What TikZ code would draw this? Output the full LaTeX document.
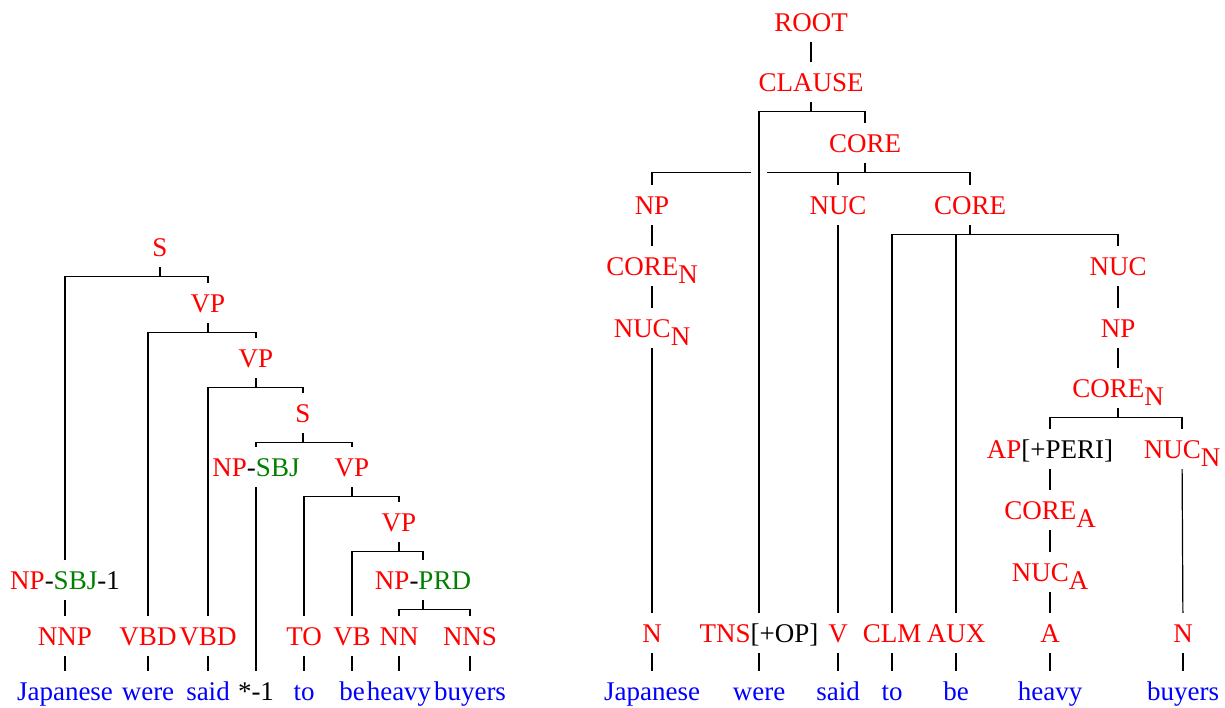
\documentclass[tikz,border=0pt]{standalone}
\usepackage{fontspec}
\setmainfont{Liberation Serif}
\definecolor{tagred}{RGB}{255,0,0}
\definecolor{funcgreen}{RGB}{0,128,0}
\definecolor{wordblue}{RGB}{0,0,255}
\newcommand{\functag}[1]{\textcolor{funcgreen}{#1}}
\newcommand{\plaintag}[1]{\textcolor{black}{#1}}
\newcommand{\lowsub}[1]{\raisebox{-4pt}{#1}}
\tikzset{
  treenode/.style={inner sep=0pt, text height=14.5pt, text depth=5pt, font=\fontsize{13.5}{16}\selectfont},
  tagnode/.style={treenode, text=tagred},
  wordnode/.style={treenode, text=wordblue}
}

\begin{document}
\begin{tikzpicture}[x=0.5pt,y=-0.5pt,line width=0.6pt]
\useasboundingbox (0,0) rectangle (1225,707);

% left tree
\node[tagnode] (S1 node) at (160,247) {S};
\node[tagnode] (VP1 node) at (208,303) {VP};
\node[tagnode] (VP2 node) at (256,358) {VP};
\node[tagnode] (S2 node) at (303,413) {S};
\node[tagnode] (NPSBJ node) at (256,467) {NP\plaintag{-}\functag{SBJ}};
\node[tagnode] (VP3 node) at (352,467) {VP};
\node[tagnode] (VP4 node) at (399,522) {VP};
\node[tagnode] (NPSBJ1 node) at (65,580) {NP\plaintag{-}\functag{SBJ}\plaintag{-1}};
\node[tagnode] (NPPRD node) at (423,580) {NP\plaintag{-}\functag{PRD}};
\node[tagnode] (NNP node) at (65,636) {NNP};
\node[tagnode] (VBDa node) at (148,636) {VBD};
\node[tagnode] (VBDb node) at (208,636) {VBD};
\node[tagnode] (TO node) at (304,636) {TO};
\node[tagnode] (VB node) at (352,636) {VB};
\node[tagnode] (NN node) at (399,636) {NN};
\node[tagnode] (NNS node) at (470,636) {NNS};
\node[wordnode] (japanese node) at (65,691) {Japanese};
\node[wordnode] (were node) at (148,691) {were};
\node[wordnode] (said node) at (208,691) {said};
\node[treenode] (star node) at (256,691) {*-1};
\node[wordnode] (to node) at (304,691) {to};
\node[wordnode] (be node) at (352,691) {be};
\node[wordnode] (heavy node) at (399,691) {heavy};
\node[wordnode] (buyers node) at (470,691) {buyers};

\draw (S1 node.south) -- ++(0,9) coordinate (S1 bar);
\draw (NPSBJ1 node.north) |- (S1 bar) -| (VP1 node.north);
\draw (VP1 node.south) -- ++(0,9) coordinate (VP1 bar);
\draw (VBDa node.north) |- (VP1 bar) -| (VP2 node.north);
\draw (VP2 node.south) -- ++(0,9) coordinate (VP2 bar);
\draw (VBDb node.north) |- (VP2 bar) -| (S2 node.north);
\draw (S2 node.south) -- ++(0,9) coordinate (S2 bar);
\draw (NPSBJ node.north) |- (S2 bar) -| (VP3 node.north);
\draw (VP3 node.south) -- ++(0,9) coordinate (VP3 bar);
\draw (TO node.north) |- (VP3 bar) -| (VP4 node.north);
\draw (VP4 node.south) -- ++(0,9) coordinate (VP4 bar);
\draw (VB node.north) |- (VP4 bar) -| (NPPRD node.north);
\draw (NPPRD node.south) -- ++(0,9) coordinate (NPPRD bar);
\draw (NN node.north) |- (NPPRD bar) -| (NNS node.north);
\draw (NPSBJ1 node) -- (NNP node);
\draw (NPSBJ node) -- (star node);
\draw (NNP node) -- (japanese node);
\draw (VBDa node) -- (were node);
\draw (VBDb node) -- (said node);
\draw (TO node) -- (to node);
\draw (VB node) -- (be node);
\draw (NN node) -- (heavy node);
\draw (NNS node) -- (buyers node);

% right tree
\node[tagnode] (ROOT node) at (811,22) {ROOT};
\node[tagnode] (CLAUSE node) at (811,82) {CLAUSE};
\node[tagnode] (CORE1 node) at (865,143) {CORE};
\node[tagnode] (NP1 node) at (652,205) {NP};
\node[tagnode] (NUC1 node) at (838,205) {NUC};
\node[tagnode] (CORE2 node) at (970,205) {CORE};
\node[tagnode] (COREN1 node) at (652,266) {CORE\lowsub{N}};
\node[tagnode] (NUC2 node) at (1118,266) {NUC};
\node[tagnode] (NUCN1 node) at (652,328) {NUC\lowsub{N}};
\node[tagnode] (NP2 node) at (1118,328) {NP};
\node[tagnode] (COREN2 node) at (1118,388) {CORE\lowsub{N}};
\node[tagnode] (AP node) at (1050,449) {AP\plaintag{[+PERI]}};
\node[tagnode] (NUCN2 node) at (1182,449) {NUC\lowsub{N}};
\node[tagnode] (COREA node) at (1050,510) {CORE\lowsub{A}};
\node[tagnode] (NUCA node) at (1050,572) {NUC\lowsub{A}};
\node[tagnode] (N1 node) at (652,633) {N};
\node[tagnode] (TNS node) at (759,633) {TNS\plaintag{[+OP]}};
\node[tagnode] (V node) at (838,633) {V};
\node[tagnode] (CLM node) at (892,633) {CLM};
\node[tagnode] (AUX node) at (956,633) {AUX};
\node[tagnode] (A node) at (1050,633) {A};
\node[tagnode] (N2 node) at (1183,633) {N};
\node[wordnode] (rjapanese node) at (652,691) {Japanese};
\node[wordnode] (rwere node) at (759,691) {were};
\node[wordnode] (rsaid node) at (838,691) {said};
\node[wordnode] (rto node) at (892,691) {to};
\node[wordnode] (rbe node) at (956,691) {be};
\node[wordnode] (rheavy node) at (1050,691) {heavy};
\node[wordnode] (rbuyers node) at (1183,691) {buyers};

\draw (ROOT node) -- (CLAUSE node);
\draw (CLAUSE node.south) -- ++(0,9) coordinate (CLAUSE bar);
\draw (TNS node.north) |- (CLAUSE bar) -| (CORE1 node.north);
\draw (CORE1 node.south) -- ++(0,9) coordinate (CORE1 bar);
\draw (NP1 node.north) |- ([xshift=-4pt]TNS node.north |- CORE1 bar);
\draw ([xshift=4pt]TNS node.north |- CORE1 bar) -| (CORE2 node.north);
\draw (CORE1 bar) -| (NUC1 node.north);
\draw (CORE2 node.south) -- ++(0,9) coordinate (CORE2 bar);
\draw (CLM node.north) |- (CORE2 bar) -| (NUC2 node.north);
\draw (CORE2 bar) -| (AUX node.north);
\draw (COREN2 node.south) -- ++(0,9) coordinate (COREN2 bar);
\draw (AP node.north) |- (COREN2 bar) -| (NUCN2 node.north);
\draw (NP1 node) -- (COREN1 node);
\draw (COREN1 node) -- (NUCN1 node);
\draw (NUCN1 node) -- (N1 node);
\draw (NUC1 node) -- (V node);
\draw (NUC2 node) -- (NP2 node);
\draw (NP2 node) -- (COREN2 node);
\draw (AP node) -- (COREA node);
\draw (COREA node) -- (NUCA node);
\draw (NUCA node) -- (A node);
\draw (NUCN2 node) -- (N2 node);
\draw (N1 node) -- (rjapanese node);
\draw (TNS node) -- (rwere node);
\draw (V node) -- (rsaid node);
\draw (CLM node) -- (rto node);
\draw (AUX node) -- (rbe node);
\draw (A node) -- (rheavy node);
\draw (N2 node) -- (rbuyers node);
\end{tikzpicture}
\end{document}
